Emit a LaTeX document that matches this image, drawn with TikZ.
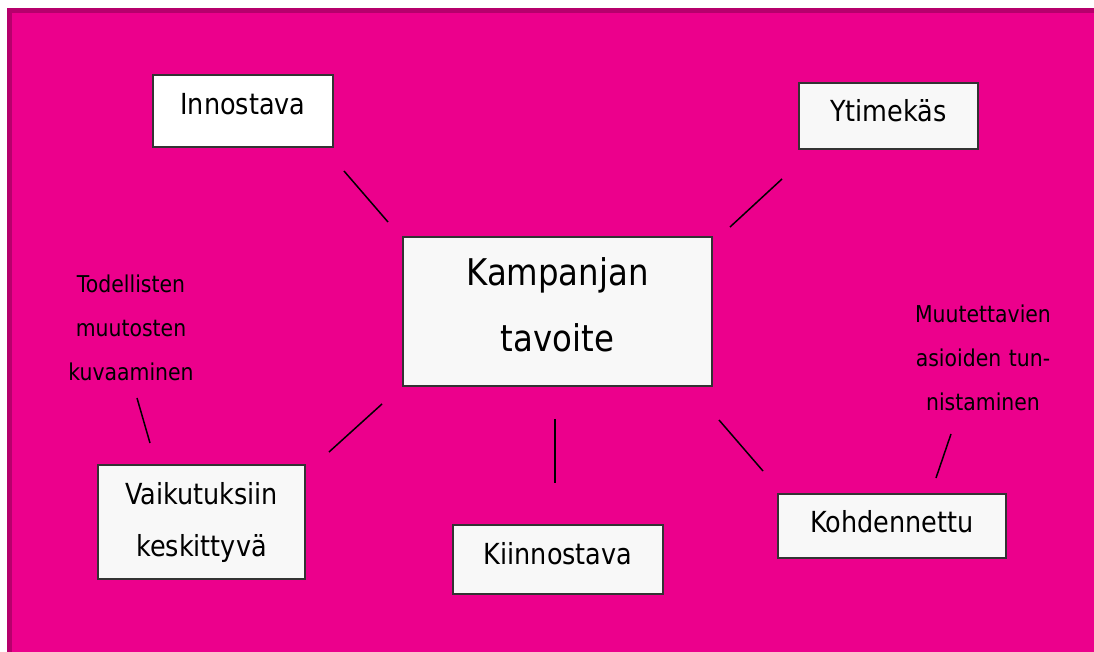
\documentclass[tikz,border=0pt]{standalone}
\usepackage{fontspec}
\setmainfont{DejaVu Sans}[FakeStretch=0.88]
\definecolor{tausta}{HTML}{EC008C}
\definecolor{reuna}{HTML}{B6006C}
\definecolor{pohja}{HTML}{F8F8F8}

\begin{document}
\begin{tikzpicture}[x=0.5pt,y=-0.5pt,
  laatikko/.style={draw=black!80,line width=0.75pt,fill=pohja,inner sep=0pt,align=center,font=\fontsize{14.5}{26}\selectfont},
  huomio/.style={inner sep=0pt,align=center,anchor=base,font=\fontsize{11.6}{22}\selectfont},
  viiva/.style={line width=0.75pt}]
  \useasboundingbox (0,0) rectangle (1094,652);
  \clip (0,0) rectangle (1094,652);
  \fill[tausta] (7,8) rectangle (1094,652);
  \draw[reuna,line width=2.5pt] (9.5,660) -- (9.5,10.5) -- (1100,10.5);

  % keskus
  \node[laatikko,text width=154.5pt,text height=24.5pt,text depth=50pt,font=\fontsize{18.4}{33}\selectfont] (tavoite) at (557.5,311.5) {Kampanjan\\tavoite};

  % ominaisuudet
  \node[laatikko,fill=white,text width=90pt,text height=20pt,text depth=16pt] (inno) at (243,111) {Innostava};
  \node[laatikko,text width=89.5pt,text height=19.5pt,text depth=13.5pt] (ytim) at (888.5,116) {Ytimekäs};
  \node[laatikko,text width=103.5pt,text height=20pt,text depth=37pt] (vaik) at (201.5,522) {Vaikutuksiin\\keskittyvä};
  \node[laatikko,text width=105pt,text height=20pt,text depth=14.5pt] (kiin) at (558,559.5) {Kiinnostava};
  \node[laatikko,text width=114pt,text height=19.5pt,text depth=12.5pt] (kohd) at (892,526) {Kohdennettu};

  % tarkennukset
  \node[huomio,text width=70pt] (tod) at (131,293) {Todellisten\\muutosten\\kuvaaminen};
  \node[huomio,text width=75pt] (muut) at (983,323) {Muutettavien\\asioiden tun-\\nistaminen};

  % viivat
  \coordinate (inno-a) at (344,171);  \coordinate (inno-b) at (388,222);
  \coordinate (ytim-a) at (782,179);  \coordinate (ytim-b) at (730,227);
  \coordinate (vaik-a) at (382,404);  \coordinate (vaik-b) at (329,452);
  \coordinate (kiin-a) at (555,419);  \coordinate (kiin-b) at (555,483);
  \coordinate (kohd-a) at (719,420);  \coordinate (kohd-b) at (763,471);
  \coordinate (tod-a) at (137,398);   \coordinate (tod-b) at (150,443);
  \coordinate (muut-a) at (951,434);  \coordinate (muut-b) at (936,478);
  \draw[viiva] (inno-a) -- (inno-b);
  \draw[viiva] (ytim-a) -- (ytim-b);
  \draw[viiva] (vaik-a) -- (vaik-b);
  \draw[viiva] (kiin-a) -- (kiin-b);
  \draw[viiva] (kohd-a) -- (kohd-b);
  \draw[viiva] (tod-a) -- (tod-b);
  \draw[viiva] (muut-a) -- (muut-b);
\end{tikzpicture}
\end{document}
